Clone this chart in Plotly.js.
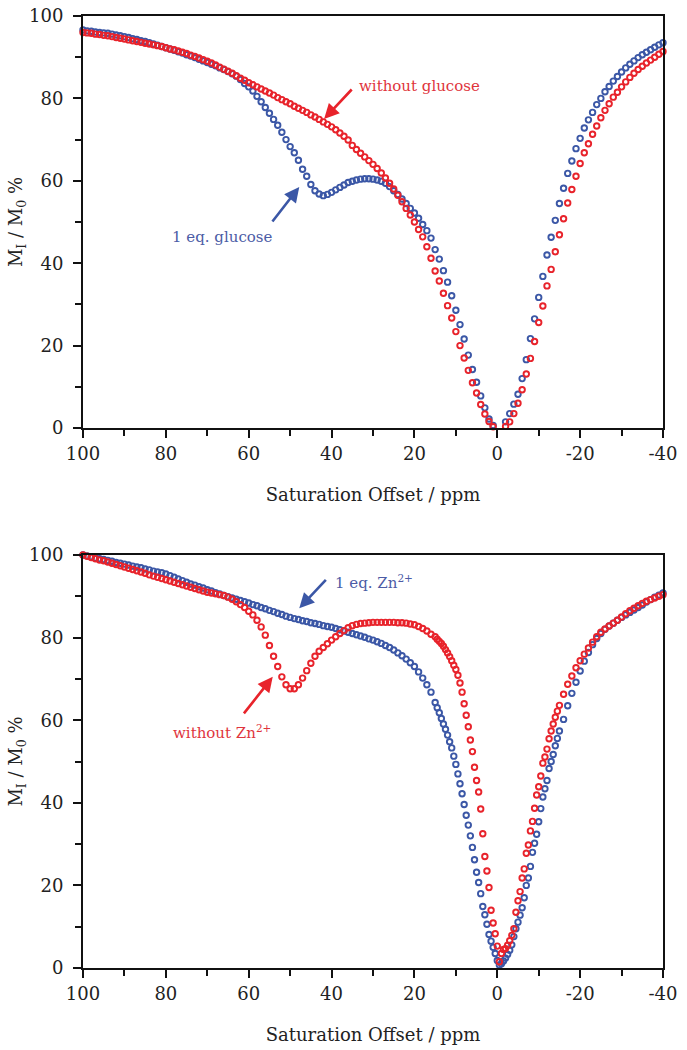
<!DOCTYPE html>
<html>
<head>
<meta charset="utf-8">
<script src="https://cdn.plot.ly/plotly-3.0.1.min.js"></script>
<style>
  html, body { margin: 0; padding: 0; background: #ffffff; }
  #chart { width: 687px; height: 1050px; }
</style>
</head>
<body>
<div id="chart"></div>
<script>
// ---------- Top panel: glucose ----------
const topX = [100,99,98,97,96,95,94,93,92,91,90,89,88,87,86,85,84,83,82,81,
  80,79,78,77,76,75,74,73,72,71,70,69,68,67,66,65,64,63,62,61,
  60,59,58,57,56,55,54,53,52,51,50,49,48,47,46,45,44,43,42,41,
  40,39,38,37,36,35,34,33,32,31,30,29,28,27,26,25,24,23,22,21,
  20,19,18,17,16,15,14,13,12,11,10,9,8,7,6,5,4,3,2,1,
  -2,-3,-4,-5,-6,-7,-8,-9,-10,-11,-12,-13,-14,-15,-16,-17,-18,-19,-20,
  -21,-22,-23,-24,-25,-26,-27,-28,-29,-30,-31,-32,-33,-34,-35,-36,-37,-38,-39,-40];

const topWithoutGlucose = [96.0,95.9,95.8,95.6,95.5,95.3,95.2,95.0,94.8,94.6,
  94.4,94.2,94.0,93.8,93.6,93.4,93.2,93.0,92.8,92.6,
  92.3,92.0,91.8,91.5,91.2,90.9,90.5,90.2,89.8,89.4,
  89.0,88.6,88.1,87.6,87.1,86.6,86.1,85.5,84.9,84.4,
  83.8,83.3,82.8,82.3,81.8,81.3,80.8,80.2,79.7,79.2,
  78.7,78.1,77.6,77.1,76.6,76.0,75.5,74.9,74.3,73.7,
  73.1,72.4,71.6,70.8,69.9,68.6,67.6,66.7,65.8,64.9,
  64.0,63.0,61.9,60.7,59.4,58.0,56.5,54.9,53.3,51.7,
  50.0,48.2,46.4,44.0,41.2,38.1,35.7,32.7,29.7,26.7,
  23.4,20.0,17.0,14.0,11.0,8.5,5.7,3.4,1.6,0.3,
  0.4,1.5,3.5,6.0,9.3,13.1,16.9,21.0,25.6,29.6,
  34.5,38.5,42.8,46.9,50.8,54.6,57.9,61.1,64.2,66.8,
  69.0,71.3,73.3,75.3,77.1,78.7,80.3,81.5,82.8,84.0,
  85.1,86.1,87.0,87.8,88.6,89.3,90.0,90.7,91.4];

const topGlucose = [96.6,96.4,96.3,96.1,96.0,95.9,95.8,95.6,95.4,95.2,
  95.0,94.8,94.5,94.3,94.0,93.8,93.5,93.2,92.9,92.6,
  92.3,92.0,91.7,91.3,91.0,90.6,90.3,89.9,89.5,89.1,
  88.7,88.3,87.9,87.4,87.0,86.5,86.0,85.4,84.6,83.6,
  82.8,81.8,80.5,79.2,77.8,76.4,74.9,73.5,71.8,70.0,
  68.3,66.8,65.0,62.8,61.1,59.1,57.6,56.8,56.4,56.7,
  57.2,57.8,58.4,59.0,59.6,59.9,60.2,60.4,60.5,60.5,
  60.4,60.2,59.9,59.4,58.6,57.6,56.7,55.6,54.5,53.3,
  52.2,50.9,49.4,47.9,46.1,43.3,41.0,38.2,35.4,32.1,
  28.6,25.1,21.6,17.7,14.2,11.1,7.8,4.9,2.2,0.6,
  1.5,3.5,5.8,8.2,12.0,16.6,21.7,26.5,31.7,36.8,
  42.0,46.3,50.4,54.5,58.2,61.8,64.8,67.8,70.3,72.8,
  74.8,76.6,78.5,80.0,81.6,82.9,84.2,85.3,86.4,87.4,
  88.3,89.1,89.9,90.6,91.2,91.8,92.4,93.0,93.5];

// ---------- Bottom panel: Zn2+ ----------
const botX = [100,99,98,97,96,95,94,93,92,91,90,89,88,87,86,85,84,83,82,81,
  80,79,78,77,76,75,74,73,72,71,70,69,68,67,66,65,64,63,62,61,
  60,59,58,57,56,55,54,53,52,51,50,49,48,47,46,45,44,43,42,41,
  40,39,38,37,36,35,34,33,32,31,30,29,28,27,26,25,24,23,22,21,
  20,19,18,17,16,
  15,14.5,14,13.5,13,12.5,12,11.5,11,10.5,10,9.5,9,8.5,8,7.5,7,6.5,6,5.5,
  5,4.5,4,3.5,3,2.5,2,1.5,1,0.5,0,
  -0.5,-1,-1.5,-2,-2.5,-3,-3.5,-4,-4.5,-5,-5.5,-6,-6.5,-7,-7.5,-8,-8.5,-9,-9.5,-10,
  -10.5,-11,-11.5,-12,-12.5,-13,-13.5,-14,-14.5,-15,
  -16,-17,-18,-19,-20,-21,-22,-23,-24,-25,-26,-27,-28,-29,-30,
  -31,-32,-33,-34,-35,-36,-37,-38,-39,-40];

const botZn = [100.0,99.8,99.6,99.3,99.1,98.9,98.7,98.5,98.2,98.0,
  97.8,97.6,97.3,97.1,96.9,96.6,96.4,96.1,95.9,95.7,
  95.4,95.0,94.6,94.2,93.8,93.4,93.0,92.7,92.3,92.0,
  91.6,91.3,90.9,90.6,90.2,89.9,89.6,89.3,89.0,88.7,
  88.4,88.0,87.7,87.3,87.0,86.6,86.3,85.9,85.6,85.2,
  84.9,84.6,84.4,84.1,83.9,83.6,83.4,83.2,82.9,82.7,
  82.5,82.2,81.9,81.6,81.3,81.0,80.7,80.4,80.1,79.7,
  79.4,79.0,78.6,78.1,77.6,77.0,76.3,75.6,74.8,73.9,
  73.0,71.7,70.2,68.6,66.8,
  64.3,63.0,61.8,60.4,59.1,57.8,56.4,54.8,53.3,51.3,
  49.3,47.0,44.6,42.2,39.6,37.0,34.6,32.0,29.2,26.2,
  23.2,20.7,18.0,14.9,12.9,10.6,8.1,6.5,5.0,3.5,1.8,
  0.7,1.0,1.7,2.4,3.3,4.3,5.6,7.6,9.5,11.1,
  12.8,14.6,17.0,20.0,21.8,24.6,28.0,30.2,32.4,35.4,
  38.6,41.4,43.4,45.4,48.3,50.0,51.7,53.8,55.6,57.4,
  60.2,63.5,66.5,69.2,71.9,74.3,76.4,78.3,79.8,81.0,
  82.0,82.8,83.5,84.2,84.9,85.5,86.1,86.7,87.3,87.9,
  88.6,89.2,89.8,90.3,90.8];

const botWithoutZn = [100.0,99.7,99.4,99.1,98.8,98.6,98.3,98.0,97.7,97.4,
  97.1,96.8,96.5,96.2,95.9,95.6,95.2,94.9,94.6,94.3,
  94.0,93.7,93.4,93.1,92.8,92.5,92.2,91.9,91.6,91.3,
  91.0,90.8,90.6,90.4,90.2,89.8,89.3,88.7,88.0,87.3,
  86.4,85.5,84.2,82.6,80.6,78.1,75.5,73.0,70.5,68.6,
  67.6,67.6,68.6,70.2,72.0,73.8,75.5,76.7,77.6,78.5,
  79.4,80.2,81.0,81.7,82.4,82.9,83.2,83.4,83.5,83.6,
  83.7,83.7,83.7,83.7,83.7,83.7,83.6,83.6,83.5,83.3,
  83.1,82.7,82.2,81.6,80.8,
  80.2,79.6,79.1,78.6,77.9,77.1,76.3,75.4,74.4,73.3,
  72.3,70.9,69.0,66.8,64.0,61.2,58.4,55.2,52.4,48.6,
  45.4,42.6,38.5,32.5,27.0,23.5,19.5,14.0,10.9,8.3,5.3,
  1.5,3.5,4.5,4.7,5.5,6.6,7.9,9.5,13.5,16.3,
  18.5,21.8,24.0,27.8,29.8,33.2,35.5,38.7,41.9,43.9,
  46.5,49.6,51.1,53.0,55.5,57.4,59.1,60.7,62.2,63.6,
  66.3,68.7,70.7,72.7,74.4,76.0,77.5,78.9,80.2,81.3,
  82.1,82.8,83.5,84.2,85.0,85.8,86.5,87.1,87.7,88.3,
  88.8,89.2,89.6,90.0,90.4];

const xTickVals = [100,80,60,40,20,0,-20,-40];
const yTickVals = [0,20,40,60,80,100];

const BLUE = '#3b57a6';
const RED = '#e8232b';
const FONT = 'DejaVu Serif, Liberation Serif, serif';

function series(x, y, color, xa, ya, name) {
  return {
    type: 'scatter', mode: 'markers', x: x, y: y, name: name,
    xaxis: xa, yaxis: ya, cliponaxis: false,
    marker: { symbol: 'circle-open', size: 5.5, color: color, line: { color: color, width: 1.9 } },
    hoverinfo: 'skip'
  };
}

const data = [
  series(topX, topGlucose, BLUE, 'x', 'y', '1 eq. glucose'),
  series(topX, topWithoutGlucose, RED, 'x', 'y', 'without glucose'),
  series(botX, botZn, BLUE, 'x2', 'y2', '1 eq. Zn2+'),
  series(botX, botWithoutZn, RED, 'x2', 'y2', 'without Zn2+')
];

function xAxis(anchor) {
  return {
    anchor: anchor, domain: [0, 1], range: [100, -40], autorange: false,
    tickmode: 'array', tickvals: xTickVals, ticktext: xTickVals.map(String),
    ticks: 'outside', ticklen: 8, tickwidth: 2, tickcolor: '#111',
    minor: { dtick: 10, tick0: 0, ticks: 'outside', ticklen: 6, tickwidth: 2, tickcolor: '#111', showgrid: false },
    showline: true, linewidth: 2, linecolor: '#111', mirror: true,
    showgrid: false, zeroline: false,
    tickfont: { family: FONT, size: 18, color: '#222' },
    title: { text: 'Saturation Offset / ppm', font: { family: FONT, size: 18, color: '#222' }, standoff: 26 }
  };
}
function yAxis(anchor, domain) {
  return {
    anchor: anchor, domain: domain, range: [0, 100], autorange: false,
    tickmode: 'array', tickvals: yTickVals, ticktext: yTickVals.map(String),
    ticks: 'outside', ticklen: 8, tickwidth: 2, tickcolor: '#111',
    minor: { dtick: 10, tick0: 0, ticks: 'outside', ticklen: 6, tickwidth: 2, tickcolor: '#111', showgrid: false },
    showline: true, linewidth: 2, linecolor: '#111', mirror: true,
    showgrid: false, zeroline: false, ticklabelstandoff: 6,
    tickfont: { family: FONT, size: 18, color: '#222' },
    title: { text: 'M<sub>I</sub> / M<sub>0</sub> %', font: { family: FONT, size: 18, color: '#222' }, standoff: 2 }
  };
}

function arrow(xref, yref, x, y, ax, ay, color) {
  return { xref: xref, yref: yref, x: x, y: y, ax: ax, ay: ay, text: '',
    showarrow: true, arrowhead: 2, arrowsize: 1.15, arrowwidth: 2.6, arrowcolor: color, standoff: 0, startstandoff: 0 };
}
function label(xref, yref, x, y, text, color, xanchor) {
  return { xref: xref, yref: yref, x: x, y: y, text: text, showarrow: false,
    xanchor: xanchor || 'center', yanchor: 'middle',
    font: { family: FONT, size: 15, color: color } };
}

const layout = {
  width: 687, height: 1050,
  paper_bgcolor: '#ffffff', plot_bgcolor: '#ffffff',
  showlegend: false,
  margin: { l: 83, r: 24, t: 16, b: 82 },
  xaxis: xAxis('y'),
  yaxis: yAxis('x', [0.5672, 1]),
  xaxis2: xAxis('y2'),
  yaxis2: yAxis('x2', [0, 0.4338]),
  annotations: [
    label('x', 'y', 18.8, 83.1, 'without glucose', '#e0343c'),
    arrow('x', 'y', 41.8, 75.0, 29, -31, RED),
    label('x', 'y', 66.4, 46.3, '1 eq. glucose', '#4c5ca6'),
    arrow('x', 'y', 47.8, 58.5, -28, 36, BLUE),
    label('x2', 'y2', 39.6, 93.5, '1 eq. Zn<sup>2+</sup>', '#4c5ca6', 'left'),
    arrow('x2', 'y2', 47.8, 87.1, 28, -30, BLUE),
    label('x2', 'y2', 78.7, 57.1, 'without Zn<sup>2+</sup>', '#e0343c', 'left'),
    arrow('x2', 'y2', 54.2, 70.5, -30, 38, RED)
  ]
};

Plotly.newPlot('chart', data, layout, { displayModeBar: false, staticPlot: true });
</script>
</body>
</html>
